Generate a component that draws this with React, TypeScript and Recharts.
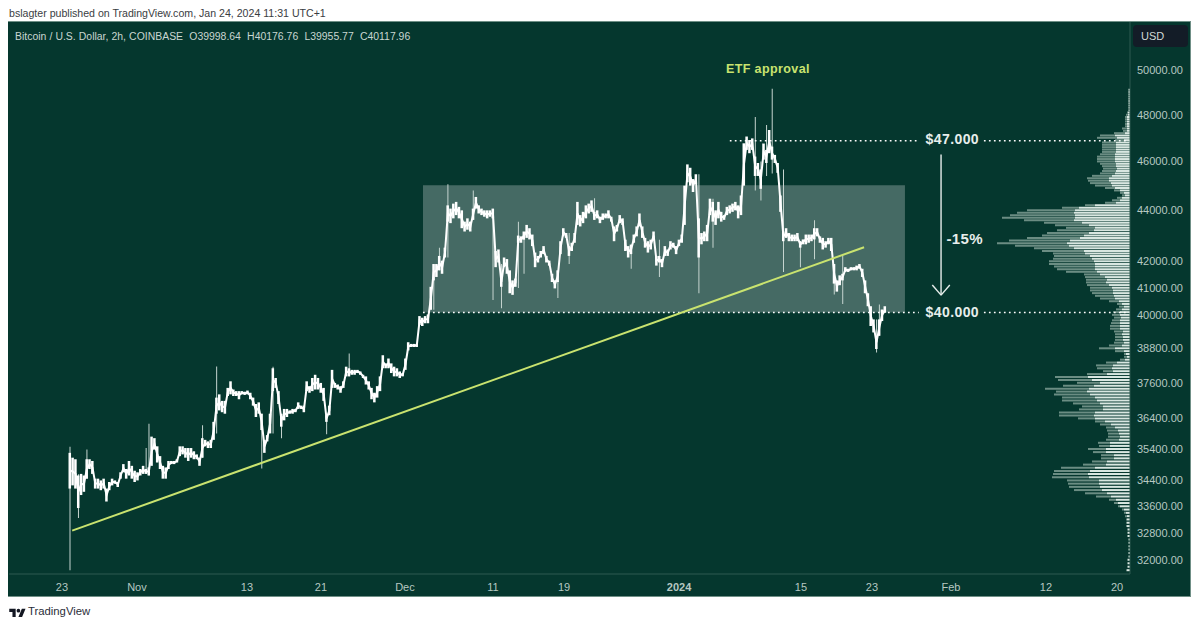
import React from 'react';
import { Bar, ComposedChart, Line, ReferenceArea, ReferenceDot, ReferenceLine, XAxis, YAxis } from 'recharts';

const bodyHighs = [
  35280, 35125, 35075, 34560, 34610, 34560, 35075, 35075, 35020, 34460, 34460, 34405, 34460, 34150, 34355, 34460,
  34405, 34355, 34660, 34920, 34765, 35020, 34865, 34710, 34660, 34765, 34865, 34765, 34815, 35805, 35755, 35490,
  35175, 34865, 34815, 35020, 35020, 35020, 35075, 35490, 35490, 35435, 35435, 35435, 35330, 35230, 35125, 35755,
  35700, 35650, 35700, 36290, 37100, 37210, 36990, 36990, 37430, 37655, 37375, 37320, 37320, 37320, 37300, 37340,
  37265, 37100, 36885, 36940, 36560, 35700, 35855, 36560, 38105, 37770, 37320, 36560, 36720, 36720, 36670, 36720,
  36720, 36940, 36830, 36830, 37655, 37490, 37770, 37880, 37770, 37600, 37430, 36510, 36830, 38050, 37600, 37545,
  37490, 37655, 38160, 38105, 38050, 38050, 38050, 37995, 37880, 37825, 37655, 37430, 37265, 37490, 37825, 38560,
  38275, 38445, 38275, 38160, 38105, 37995, 37940, 38445, 39020, 38960, 38960, 38960,
  39960, 39900, 39960, 40020, 41040, 41900, 41900, 42210, 42030, 42530, 44200, 44070, 44270, 44340, 44140, 44000,
  43550, 43680, 43550, 44070, 44540, 44200, 44070, 44000, 44000, 44000, 44070, 42400, 42460, 41410, 42150, 42090,
  41660, 41280, 41350, 43000, 42970, 43160, 43420, 43290, 43040, 42340, 42210, 42400, 42590, 42210, 42030, 41530,
  41280, 41660, 42780, 43290, 43100, 42590, 42720, 43100, 44340, 43810, 43940, 44200, 44270, 44400, 43940, 44000,
  43745, 43875, 43875, 44000, 43745, 43360, 43420, 43810, 43680, 42840, 42590, 42650, 43040, 43360, 43875, 43360,
  42910, 42780, 42840, 43160, 42210, 42210, 42090, 42590, 42460, 42780, 42720, 42590, 42840, 43040,
  45000, 45880, 45740, 45270, 45470, 43680, 43100, 43160, 43420, 44470, 44340, 44000, 44340, 43940, 43810, 44140,
  44200, 44270, 44340, 44200, 44600, 46770, 47060, 46910, 46980, 46210, 45940, 45670, 46760, 46490, 47340, 46630,
  46280, 45940, 44600, 43160, 43290, 43100, 43040, 43040, 43100, 42780, 42850, 43040, 43040, 43040, 43290, 43290,
  42970, 42910, 42780, 42910, 42910, 41900, 41280, 41470, 41530, 41780, 41720, 41780, 41780, 41840, 41900, 41720,
  41280, 40800, 40320, 39840, 39250, 39840, 40200, 40320,
];

const bodyLows = [
  34150, 34250, 34150, 33550, 33950, 34050, 34460, 34765, 34610, 34150, 34150, 34100, 34150, 33750, 34100, 34250,
  34300, 34200, 34460, 34660, 34460, 34560, 34460, 34355, 34405, 34560, 34610, 34610, 34560, 34865, 35385, 34970,
  34765, 34460, 34460, 34765, 34920, 34920, 34970, 35175, 35230, 35125, 35020, 35125, 35075, 35075, 34865, 35125,
  35490, 35435, 35435, 35700, 36560, 36670, 36610, 36560, 37155, 37210, 37155, 37155, 37045, 37210, 37190, 37210,
  37045, 36830, 36450, 36560, 36020, 35280, 35650, 35910, 37320, 37430, 36885, 36130, 36340, 36450, 36560, 36560,
  36610, 36720, 36720, 36610, 37320, 37265, 37320, 37375, 37375, 37265, 36990, 36290, 36510, 37430, 37430, 37375,
  37265, 37430, 37825, 37825, 37880, 37880, 37940, 37880, 37770, 37545, 37375, 37045, 36940, 37100, 37320, 38105,
  38105, 38105, 37940, 37825, 37825, 37770, 37825, 38050, 38730, 38850, 38850, 38850,
  39640, 39600, 39700, 39700, 40190, 41280, 41410, 41660, 41530, 42150, 43550, 43490, 43680, 43810, 43680, 43290,
  43160, 43230, 43160, 43620, 44070, 43875, 43810, 43745, 43680, 43745, 43680, 41780, 41960, 41040, 41780, 41530,
  40800, 40740, 41040, 42720, 42720, 42840, 42910, 42850, 42590, 41780, 41960, 42150, 42280, 41960, 41840, 41220,
  40980, 41220, 42280, 42970, 42910, 42210, 42400, 42720, 43420, 43360, 43490, 43680, 43875, 43940, 43620, 43680,
  43490, 43620, 43680, 43680, 43550, 42780, 43160, 43490, 43420, 42400, 42150, 42280, 42720, 42970, 43360, 42910,
  42530, 42340, 42460, 42840, 41840, 41960, 41780, 42210, 42210, 42460, 42530, 42280, 42590, 42720,
  43420, 45140, 45000, 44740, 45070, 42150, 42660, 42780, 42780, 43810, 43550, 43420, 43680, 43550, 43620, 43810,
  43875, 43940, 44000, 43680, 43810, 45000, 46490, 46350, 46490, 45400, 45400, 44870, 46080, 45940, 46350, 46080,
  45940, 45530, 43940, 42780, 42910, 42780, 42780, 42780, 42780, 42530, 42660, 42660, 42720, 42780, 42850, 42970,
  42720, 42460, 42530, 42660, 42400, 41160, 40860, 41100, 41280, 41600, 41600, 41660, 41660, 41660, 41720, 41410,
  40800, 40320, 39600, 39370, 38780, 39250, 39780, 40080,
];

// long thin wicks that stick out of the bodies
const wickBars = [0, 3, 6, 27, 28, 47, 52, 68, 72, 75, 91, 99, 129, 131, 134, 143, 150, 153, 159, 161, 173, 177, 186, 199, 209, 223, 228, 243, 245, 247, 249, 253, 259, 264, 271, 274, 286, 287];
const wickLows = [31700, 33250, 34460, 34610, 34560, 35125, 35910, 34780, 35910, 35755, 35880, 37825, 40190, 41660, 42150, 43620, 40550, 40250, 41000, 41530, 40620, 41900, 43620, 41720, 41410, 40800, 42530, 44800, 44400, 45400, 45500, 41600, 41780, 42080, 40750, 40400, 38660, 39250];
const wickHighs = [35480, 34600, 35385, 35435, 36230, 36180, 38170, 36560, 38160, 36500, 36510, 38620, 41900, 42530, 45060, 44800, 44000, 41900, 43550, 43000, 41280, 43100, 44490, 42590, 42840, 45470, 44470, 47900, 46000, 47560, 49150, 45670, 42780, 43600, 41900, 42280, 39840, 40380];

const profilePrices = [
  49100, 49000, 48900, 48800, 48700, 48600, 48500, 48400, 48300, 48200, 48100, 48000, 47900, 47800, 47700, 47600, 47500, 47400, 47300, 47200, 47100, 47000,
  46900, 46800, 46700, 46600, 46500, 46400, 46300, 46200, 46100, 46000, 45900, 45800, 45700, 45600, 45500, 45400, 45300, 45200, 45100, 45000,
  44900, 44800, 44700, 44600, 44500, 44400, 44300, 44200, 44100, 44000, 43900, 43800, 43700, 43600, 43500, 43400, 43300, 43200, 43100, 43000,
  42900, 42800, 42700, 42600, 42500, 42400, 42300, 42200, 42100, 42000, 41900, 41800, 41700, 41600, 41500, 41400, 41300, 41200, 41100, 41000,
  40900, 40800, 40700, 40600, 40500, 40400, 40300, 40200, 40100, 40000, 39900, 39800, 39700, 39600, 39500, 39400, 39300, 39200, 39100, 39000,
  38900, 38800, 38700, 38600, 38500, 38400, 38300, 38200, 38100, 38000, 37900, 37800, 37700, 37600, 37500, 37400, 37300, 37200, 37100, 37000,
  36900, 36800, 36700, 36600, 36500, 36400, 36300, 36200, 36100, 36000, 35900, 35800, 35700, 35600, 35500, 35400, 35300, 35200, 35100, 35000,
  34900, 34800, 34700, 34600, 34500, 34400, 34300, 34200, 34100, 34000, 33900, 33800, 33700, 33600, 33500, 33400, 33300, 33200, 33100, 33000,
  32900, 32800, 32700, 32600, 32500, 32400, 32300, 32200, 32100, 32000, 31900, 31800, 31700,
];

const profileUp = [
  1, 1, 1, 1, 1, 1, 1, 1, 1, 1, 2, 2, 3, 3, 3, 3, 3, 3, 3, 5, 15, 13,
  6, 14, 14, 14, 14, 14, 15, 15, 15, 15, 14, 14, 13, 14, 15, 18, 21, 21, 19, 18,
  15, 10, 6, 5, 8, 10, 14, 35, 51, 55, 56, 55, 55, 56, 48, 41, 35, 36, 41, 46,
  50, 60, 63, 61, 56, 46, 45, 40, 38, 36, 35, 35, 35, 33, 30, 25, 23, 24, 21, 18,
  17, 17, 16, 15, 11, 8, 6, 8, 10, 10, 9, 10, 10, 10, 10, 7, 8, 7, 7, 6,
  8, 15, 6, 4, 3, 5, 13, 17, 18, 17, 23, 42, 38, 30, 36, 41, 43, 40, 35, 33,
  30, 27, 27, 35, 36, 35, 25, 19, 15, 12, 11, 10, 11, 20, 20, 24, 24, 16, 16, 23,
  24, 35, 40, 42, 41, 31, 31, 30, 28, 23, 19, 14, 12, 10, 6, 4, 3, 3, 3, 3,
  2, 2, 2, 1, 1, 1, 1, 1, 1, 2, 2, 2, 3,
];

const profileDown = [
  1, 1, 1, 1, 1, 1, 1, 1, 1, 1, 1, 2, 2, 2, 2, 2, 2, 5, 4, 11, 15, 20,
  9, 14, 14, 14, 14, 14, 15, 18, 18, 18, 16, 14, 14, 14, 15, 20, 22, 21, 21, 17,
  10, 6, 4, 3, 5, 8, 11, 10, 17, 48, 57, 65, 73, 50, 38, 34, 29, 37, 42, 42,
  53, 61, 70, 54, 40, 42, 32, 36, 39, 45, 46, 41, 38, 31, 16, 20, 21, 20, 22, 22,
  23, 21, 19, 15, 10, 5, 5, 6, 7, 8, 7, 8, 9, 10, 10, 9, 7, 8, 8, 10,
  13, 16, 9, 2, 3, 5, 11, 17, 15, 10, 20, 33, 34, 23, 31, 44, 31, 36, 33, 35,
  27, 21, 24, 36, 35, 17, 10, 11, 9, 11, 11, 12, 13, 12, 11, 18, 13, 13, 13, 15,
  23, 34, 36, 35, 37, 32, 31, 31, 28, 22, 15, 7, 4, 2, 2, 2, 2, 1, 1, 1,
  1, 1, 1, 1, 1, 1, 1, 1, 1, 1, 1, 1, 1,
];

const priceTicks = [50000, 48000, 46000, 44000, 42000, 41000, 40000, 38800, 37600, 36400, 35400, 34400, 33600, 32800, 32000];
const timeTicks = [-2.84, 23.76, 62.77, 89, 118.8, 150, 175.2, 216, 259.2, 284.4, 312.4, 346.1, 371.3];
const timeLabels = ['23', 'Nov', '13', '21', 'Dec', '11', '19', '2024', '15', '23', 'Feb', '12', '20'];

const chartData = bodyHighs.map((high, i) => {
  const w = wickBars.indexOf(i);
  return {
    bar: i,
    body: [bodyLows[i], high],
    mid: (bodyLows[i] + high) / 2,
    wick: w >= 0 ? [wickLows[w], wickHighs[w]] : undefined,
  };
});

const profileData = profilePrices.map((price, i) => ({ price, up: profileUp[i], down: profileDown[i] }));

const W = 1200;
const H = 627;
const margin = { top: 22, right: 10, bottom: 30, left: 9 };
const priceDomain = [31594, 52234];
const barDomain = [-21.6, 375.9];
const FONT = '"Liberation Sans", Arial, sans-serif';
const BG = '#05372e';
const AXIS = '#2f5a50';
const TICK = '#b7c8c2';
const LIME = '#c9e36f';

const TimeTick = ({ x, y, payload, index }: any) => {
  const label = timeLabels[index] ?? payload.value;
  return (
    <text x={x} y={y + 9} textAnchor="middle" fontSize={11} fill={TICK} fontFamily={FONT} fontWeight={label === '2024' ? 700 : 400}>
      {label}
    </text>
  );
};

const Tag = ({ text, size, fill, bold }: any) => (props: any) => {
  const { viewBox } = props;
  return (
    <text x={viewBox.x} y={viewBox.y + size * 0.36} textAnchor="middle" fontSize={size} fill={fill} fontFamily={FONT} fontWeight={bold ? 700 : 400} letterSpacing={0.4}>
      {text}
    </text>
  );
};

const dots = { stroke: '#ffffff', strokeWidth: 1.7, strokeDasharray: '1.7 3.3' };
const arrow = { stroke: '#e8eeec', strokeWidth: 1.4 };

export default function App() {
  return (
    <div style={{ position: 'absolute', left: 0, top: 0, width: W, height: H, background: '#ffffff', overflow: 'hidden', fontFamily: FONT }}>
      <div style={{ position: 'absolute', left: 9, top: 7, fontSize: 10.6, color: '#3a3d42', whiteSpace: 'nowrap' }}>
        bslagter published on TradingView.com, Jan 24, 2024 11:31 UTC+1
      </div>
      <div style={{ position: 'absolute', left: 8, top: 21, width: 1183, height: 576, background: BG, borderTop: '1px solid #6f8f86', borderRight: '1px solid #6f8f86', borderBottom: '1px solid #6f8f86', boxSizing: 'border-box' }} />

      <div style={{ position: 'absolute', left: 0, top: 0 }}>
        <ComposedChart width={W} height={H} data={profileData} layout="vertical" margin={{ top: 22, right: 70, bottom: 53, left: 9 }}>
          <XAxis type="number" domain={[0, 1121]} reversed hide allowDataOverflow />
          <YAxis type="number" dataKey="price" scale="log" domain={priceDomain} allowDataOverflow reversed hide />
          <Bar dataKey="up" stackId="vol" fill="#d9e7e1" barSize={2} isAnimationActive={false} />
          <Bar dataKey="down" stackId="vol" fill="#6b8d83" barSize={2} isAnimationActive={false} />
        </ComposedChart>
      </div>

      <div style={{ position: 'absolute', left: 0, top: 0 }}>
        <ComposedChart width={W} height={H} data={chartData} margin={margin}>
          <XAxis
            type="number"
            dataKey="bar"
            domain={barDomain}
            ticks={timeTicks}
            interval={0}
            allowDataOverflow
            tickLine={false}
            axisLine={{ stroke: AXIS }}
            tick={<TimeTick />}
            height={23}
          />
          <XAxis xAxisId="wicks" type="number" dataKey="bar" domain={barDomain} allowDataOverflow hide />
          <YAxis
            type="number"
            orientation="right"
            scale="log"
            domain={priceDomain}
            allowDataOverflow
            ticks={priceTicks}
            interval={0}
            tickFormatter={(v: number) => v.toFixed(2)}
            tick={{ fontSize: 11, fill: TICK, fontFamily: FONT }}
            tickLine={false}
            tickMargin={1}
            axisLine={{ stroke: AXIS }}
            width={60}
          />

          <ReferenceArea x1={125.2} x2={296.1} y1={40090} y2={45020} fill="#ffffff" fillOpacity={0.26} stroke="none" ifOverflow="hidden" />
          <ReferenceLine segment={[{ x: 125.2, y: 40090 }, { x: 301, y: 40090 }]} {...dots} />
          <ReferenceLine segment={[{ x: 324.1, y: 40090 }, { x: 375.9, y: 40090 }]} {...dots} />
          <ReferenceLine segment={[{ x: 234, y: 46880 }, { x: 301, y: 46880 }]} {...dots} />
          <ReferenceLine segment={[{ x: 324.1, y: 46880 }, { x: 375.9, y: 46880 }]} {...dots} />

          <Bar xAxisId="wicks" dataKey="wick" fill="#c6d5d0" barSize={1} isAnimationActive={false} />
          <Bar dataKey="body" fill="#ffffff" barSize={3} isAnimationActive={false} />
          <Line dataKey="mid" stroke="#ffffff" strokeWidth={2} dot={false} activeDot={false} isAnimationActive={false} />

          <ReferenceLine segment={[{ x: 0.8, y: 32866 }, { x: 281.6, y: 42545 }]} stroke={LIME} strokeWidth={2} />

          <ReferenceLine segment={[{ x: 308.9, y: 46300 }, { x: 308.9, y: 40730 }]} {...arrow} />
          <ReferenceLine segment={[{ x: 305.8, y: 41110 }, { x: 308.9, y: 40730 }]} {...arrow} />
          <ReferenceLine segment={[{ x: 312, y: 41110 }, { x: 308.9, y: 40730 }]} {...arrow} />

          <ReferenceDot x={247.5} y={50050} r={0} stroke="none" label={Tag({ text: 'ETF approval', size: 12.5, fill: LIME, bold: true })} />
          <ReferenceDot x={312.9} y={46940} r={0} stroke="none" label={Tag({ text: '$47.000', size: 14, fill: '#e8eeec', bold: true })} />
          <ReferenceDot x={312.9} y={40110} r={0} stroke="none" label={Tag({ text: '$40.000', size: 14, fill: '#e8eeec', bold: true })} />
          <ReferenceDot x={317.3} y={42880} r={0} stroke="none" label={Tag({ text: '-15%', size: 15, fill: '#e8eeec', bold: true })} />
        </ComposedChart>
      </div>

      <div style={{ position: 'absolute', left: 15, top: 31, fontSize: 10.45, color: '#c9d6d1', whiteSpace: 'nowrap', wordSpacing: 0.2 }}>
        Bitcoin / U.S. Dollar, 2h, COINBASE&nbsp; O39998.64&nbsp; H40176.76&nbsp; L39955.77&nbsp; C40117.96
      </div>
      <div style={{ position: 'absolute', left: 1133, top: 25, width: 55, height: 22, background: '#131c27', borderRadius: 4, color: '#d0d8d6', fontSize: 11, lineHeight: '22px', textIndent: 8 }}>USD</div>

      <svg style={{ position: 'absolute', left: 9, top: 607 }} width={17} height={11} viewBox="0 0 36 24">
        <path d="M14 22H7V11H0V4h14v18zM28 22h-8l7.5-18h8L28 22z" fill="#131722" />
        <circle cx="20" cy="8" r="4" fill="#131722" />
      </svg>
      <div style={{ position: 'absolute', left: 28, top: 605, fontSize: 11.3, color: '#2a2e39' }}>TradingView</div>
    </div>
  );
}
